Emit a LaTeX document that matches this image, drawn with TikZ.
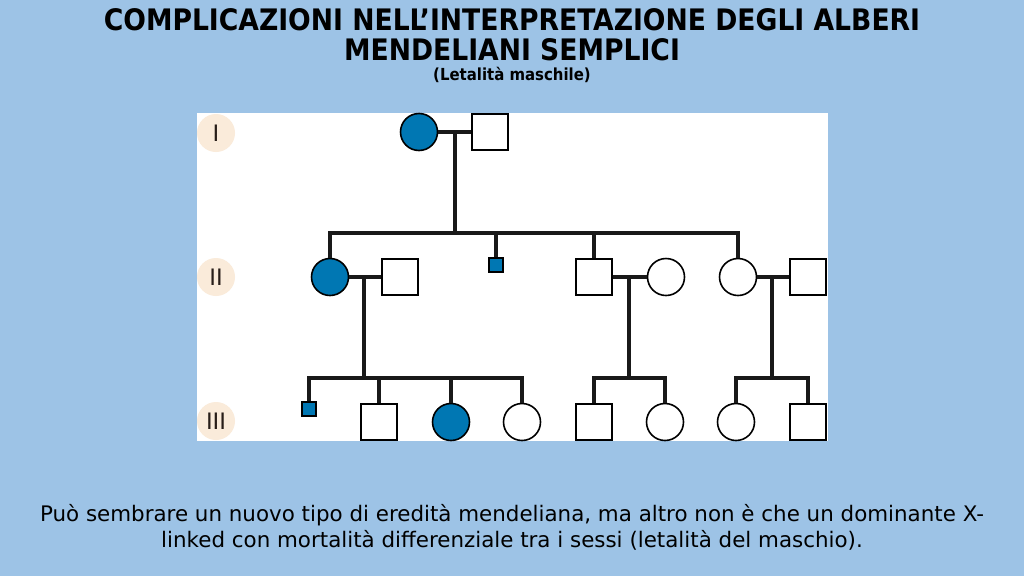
\documentclass[tikz,border=0pt]{standalone}
\usepackage{fontspec}
\setmainfont{DejaVu Sans}
\newfontfamily\titlefont{DejaVu Sans Condensed}
\newfontfamily\labfont{Liberation Sans}
\definecolor{bgblue}{RGB}{157,195,230}
\definecolor{affected}{RGB}{0,119,179}
\definecolor{beige}{RGB}{250,235,218}
\definecolor{labtext}{RGB}{40,30,25}
\tikzset{
  male/.style={draw=black,line width=1.6pt,minimum size=36pt,inner sep=0pt,rectangle,fill=white},
  female/.style={draw=black,line width=1.6pt,minimum size=37pt,inner sep=0pt,circle,fill=white},
  aff/.style={fill=affected},
  smallmale/.style={draw=black,line width=1.3pt,minimum size=14pt,inner sep=0pt,rectangle,fill=affected},
  link/.style={line width=3.4pt,line cap=butt,line join=miter,draw=black!90},
  genlab/.style={circle,fill=beige,minimum size=38pt,inner sep=0pt,text=labtext,font=\labfont\fontsize{24}{24}\selectfont}
}
\begin{document}
\begin{tikzpicture}[x=1pt,y=-1pt]
\fill[bgblue] (0,0) rectangle (1024,576);
\useasboundingbox (0,0) rectangle (1024,576);
\fill[white] (197,113) rectangle (828,441);
% titles
\node[font=\titlefont\bfseries\fontsize{29.6}{32}\selectfont] (t1) at (512,20) {COMPLICAZIONI NELL’INTERPRETAZIONE DEGLI ALBERI};
\node[font=\titlefont\bfseries\fontsize{29.6}{32}\selectfont] (t2) at (512,50) {MENDELIANI SEMPLICI};
\node[font=\titlefont\bfseries\fontsize{16.6}{18}\selectfont] (t3) at (512,75) {(Letalità maschile)};
% generation labels
\node[genlab] (gI) at (216,133) {I};
\node[genlab] (gII) at (216,277) {II};
\node[genlab] (gIII) at (216,421) {III};
% generation I
\node[female,aff] (I1) at (419,132) {};
\node[male] (I2) at (490,132) {};
\coordinate (m1) at (455,132);
\coordinate (sib1) at (455,233);
% generation II
\node[female,aff] (II1) at (330,277) {};
\node[smallmale] (II2) at (496,265) {};
\node[male] (II3) at (594,277) {};
\node[female] (II4) at (738,277) {};
\node[male] (S1) at (400,277) {};
\node[female] (S3) at (666,277) {};
\node[male] (S4) at (808,277) {};
\coordinate (m2) at (364,277);
\coordinate (m3) at (629,277);
\coordinate (m4) at (772,277);
\coordinate (sib2) at (364,378);
\coordinate (sib3) at (629,378);
\coordinate (sib4) at (772,378);
% generation III
\node[smallmale] (III1) at (309,409) {};
\node[male] (III2) at (379,422) {};
\node[female,aff] (III3) at (451,422) {};
\node[female] (III4) at (522,422) {};
\node[male] (III5) at (594,422) {};
\node[female] (III6) at (665,422) {};
\node[female] (III7) at (736,422) {};
\node[male] (III8) at (808,422) {};
% connectors
\draw[link] (I1.east) -- (I2.west);
\draw[link] (m1) -- (sib1);
\draw[link] (II1.north) -- (II1.north |- sib1) -- (II4.north |- sib1) -- (II4.north);
\draw[link] (II2.north) -- (II2.north |- sib1);
\draw[link] (II3.north) -- (II3.north |- sib1);
\draw[link] (II1.east) -- (S1.west);
\draw[link] (II3.east) -- (S3.west);
\draw[link] (II4.east) -- (S4.west);
\draw[link] (m2) -- (sib2);
\draw[link] (m3) -- (sib3);
\draw[link] (m4) -- (sib4);
\draw[link] (III1.north) -- (III1.north |- sib2) -- (III4.north |- sib2) -- (III4.north);
\draw[link] (III2.north) -- (III2.north |- sib2);
\draw[link] (III3.north) -- (III3.north |- sib2);
\draw[link] (III5.north) -- (III5.north |- sib3) -- (III6.north |- sib3) -- (III6.north);
\draw[link] (III7.north) -- (III7.north |- sib4) -- (III8.north |- sib4) -- (III8.north);
% bottom text
\node[font=\fontsize{21.4}{26}\selectfont,align=center] (cap) at (512,527) {Può sembrare un nuovo tipo di eredità mendeliana, ma altro non è che un dominante X-\\linked con mortalità differenziale tra i sessi (letalità del maschio).};
\end{tikzpicture}
\end{document}
